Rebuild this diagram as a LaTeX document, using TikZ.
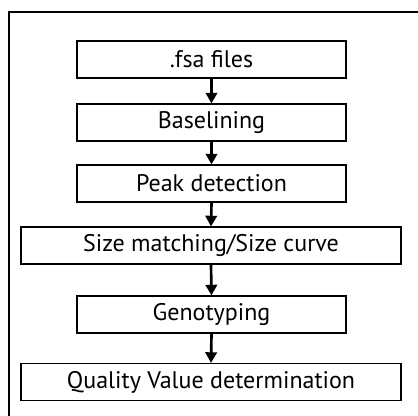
\documentclass[tikz,border=0pt]{standalone}
\usepackage{fontspec}
\setmainfont{PT Sans}
\usetikzlibrary{arrows.meta}

\begin{document}
\begin{tikzpicture}[x=0.75pt, y=-0.75pt,
    stepbox/.style={draw, line width=0.8pt, minimum height=37*0.75pt, inner sep=0pt, font=\fontsize{18}{20}\selectfont},
    flow/.style={line width=2pt, -{Triangle[width=8.5pt, length=8pt]}}]
    \useasboundingbox (0,0) rectangle (418,416);

    % Frame
    \draw[line width=1.7pt] (9,416) -- (9,12) -- (418,12);

    % Boxes
    \node[stepbox, minimum width=269*0.75pt] (fsa) at (211.5,59.5) {.fsa files};
    \node[stepbox, minimum width=269*0.75pt] (base) at (211.5,122.5) {Baselining};
    \node[stepbox, minimum width=269*0.75pt] (peak) at (211.5,183.5) {Peak detection};
    \node[stepbox, minimum width=380*0.75pt] (size) at (211,245.5) {Size matching/Size curve};
    \node[stepbox, minimum width=269*0.75pt] (geno) at (211.5,314.5) {Genotyping};
    \node[stepbox, minimum width=380*0.75pt] (qual) at (211,382) {Quality Value determination};

    % Arrows
    \foreach \a/\b in {fsa/base, base/peak, peak/size, size/geno, geno/qual}
        \draw[flow] (\a.south) -- (\b.north);
\end{tikzpicture}
\end{document}
